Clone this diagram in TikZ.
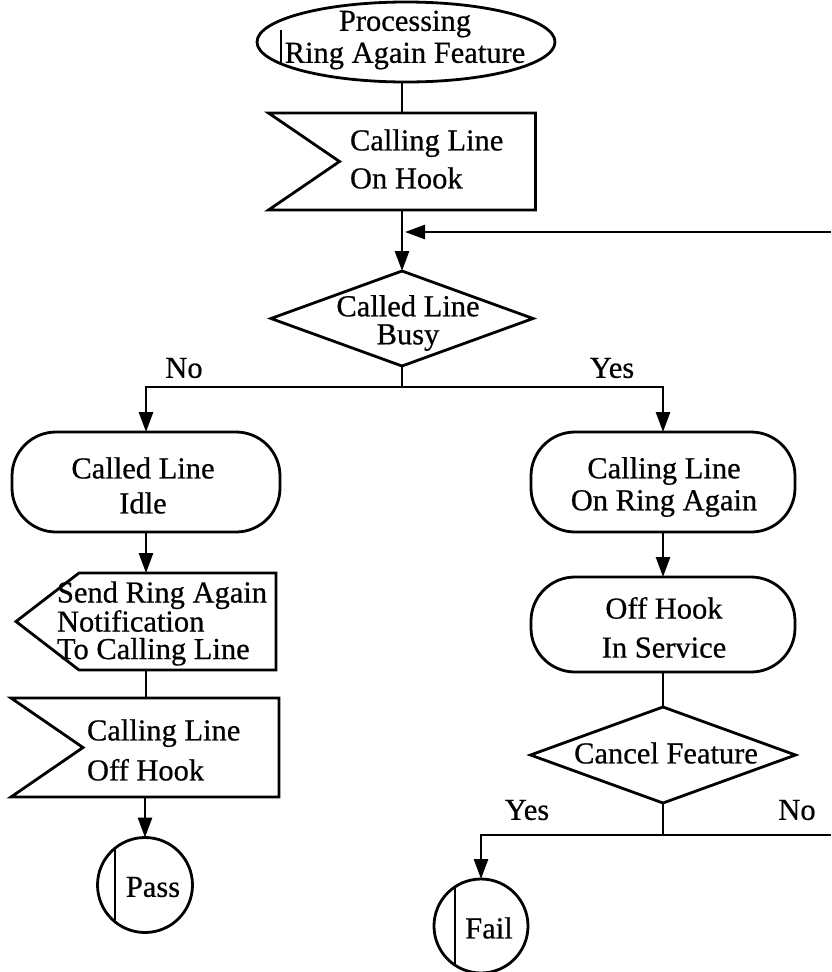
\documentclass[tikz,border=0pt]{standalone}
\usepackage{fontspec}
\setmainfont{Liberation Serif}
\newfontfamily\diagfont{Liberation Serif}[FakeBold=0.6]
\usetikzlibrary{shapes.geometric, arrows.meta, calc}

\begin{document}
\begin{tikzpicture}[x=1pt, y=-1pt,
  line width=2.8pt,
  every node/.style={inner sep=0pt, outer sep=0pt},
  txt/.style={font=\diagfont\fontsize{30.5}{#1}\selectfont, align=center},
  txtl/.style={font=\diagfont\fontsize{30.5}{#1}\selectfont, align=left},
  arr/.style={-{Triangle[length=20pt,width=14pt]}},
  frame/.style={rectangle, minimum width=#1},
  roundbox/.style={draw, rectangle, rounded corners=44pt},
  terminal/.style={draw, circle, minimum size=95}
]
\useasboundingbox (0,0) rectangle (831,972);

% ---- start symbol ----
\node[draw, ellipse, minimum width=298, minimum height=80] (start) at (406,42) {};
\draw ([shift={(-125,-12)}]start.center) -- ([shift={(-125,22)}]start.center);
\node[txt=32] (startT) at (405,40) {Processing\\Ring Again Feature};

% ---- input: calling line on hook ----
\node[frame=267, minimum height=97] (in1) at (402,161.5) {};
\draw (in1.north west) -- (in1.north east) -- (in1.south east) -- (in1.south west)
      -- ([xshift=71pt]in1.west) -- cycle;
\node[txtl=38, anchor=west] (in1T) at (350,159) {Calling Line\\On Hook};
\draw (start.south -| in1.north) -- (in1.north);

% ---- loop back entry ----
\coordinate (loop) at (831,232);
\draw[arr] (loop) -- ($(in1.south |- loop)+(3,0)$);

% ---- decision: called line busy ----
\node[draw, diamond, minimum width=262, minimum height=95] (dec1) at (402,318.5) {};
\node[txt=28] (dec1T) at (408,323) {Called Line\\Busy};
\draw[arr] (in1.south) -- (dec1.north);

\coordinate (br1) at (402,387);
\draw (dec1.south) -- (br1);
\node[txt=30] (noA) at (184,368) {No};
\node[txt=30] (yesA) at (612,368) {Yes};

% ---- left branch ----
\node[roundbox, minimum width=268, minimum height=100] (idle) at (146,482) {};
\node[txt=35] (idleT) at (143,485.5) {Called Line\\Idle};
\draw[arr] (br1) -| (idle.north);

\node[frame=260, minimum height=97] (send) at (146,621.5) {};
\draw ([xshift=63pt]send.north west) -- (send.north east) -- (send.south east)
      -- ([xshift=63pt]send.south west) -- (send.west) -- cycle;
\node[txtl=27.5, anchor=west] (sendT) at (57,623.5) {Send Ring Again\\Notification\\To Calling Line};
\draw[arr] (idle.south) -- (send.north);

\node[frame=268, minimum height=99] (in2) at (145,747.5) {};
\draw (in2.north west) -- (in2.north east) -- (in2.south east) -- (in2.south west)
      -- ([xshift=72pt]in2.west) -- cycle;
\node[txtl=40, anchor=west] (in2T) at (87,750) {Calling Line\\Off Hook};
\draw (send.south) -- (send.south |- in2.north);

\node[terminal] (pass) at (145,885) {};
\draw ([shift={(-30,-36.8)}]pass.center) -- ([shift={(-30,36.8)}]pass.center);
\node[txt=30] (passT) at (153,887) {Pass};
\draw[arr] (in2.south) -- (in2.south |- pass.north);

% ---- right branch ----
\node[roundbox, minimum width=264, minimum height=100] (ring) at (663,482) {};
\node[txt=32] (ringT) at (664,487) {Calling Line\\On Ring Again};
\draw[arr] (br1) -| (ring.north);

\node[roundbox, minimum width=264, minimum height=95] (svc) at (663,624.5) {};
\node[txt=39] (svcT) at (664,627.5) {Off Hook\\In Service};
\draw[arr] (ring.south) -- (svc.north);

\node[draw, diamond, minimum width=265, minimum height=96] (dec2) at (663,755) {};
\node[txt=30] (dec2T) at (666,753) {Cancel Feature};
\draw (svc.south) -- (dec2.north);

\coordinate (br2) at (663,835);
\coordinate (noout) at (831,835);
\draw (dec2.south) -- (br2);
\draw (br2) -- (noout);
\node[txt=30] (yesB) at (527,810) {Yes};
\node[txt=30] (noB) at (797,810) {No};

\node[terminal, minimum size=94] (fail) at (481,926) {};
\draw ([shift={(-26,-39.2)}]fail.center) -- ([shift={(-26,39.2)}]fail.center);
\node[txt=30] (failT) at (489,928) {Fail};
\draw[arr] (br2) -| (fail.north);
\end{tikzpicture}
\end{document}
